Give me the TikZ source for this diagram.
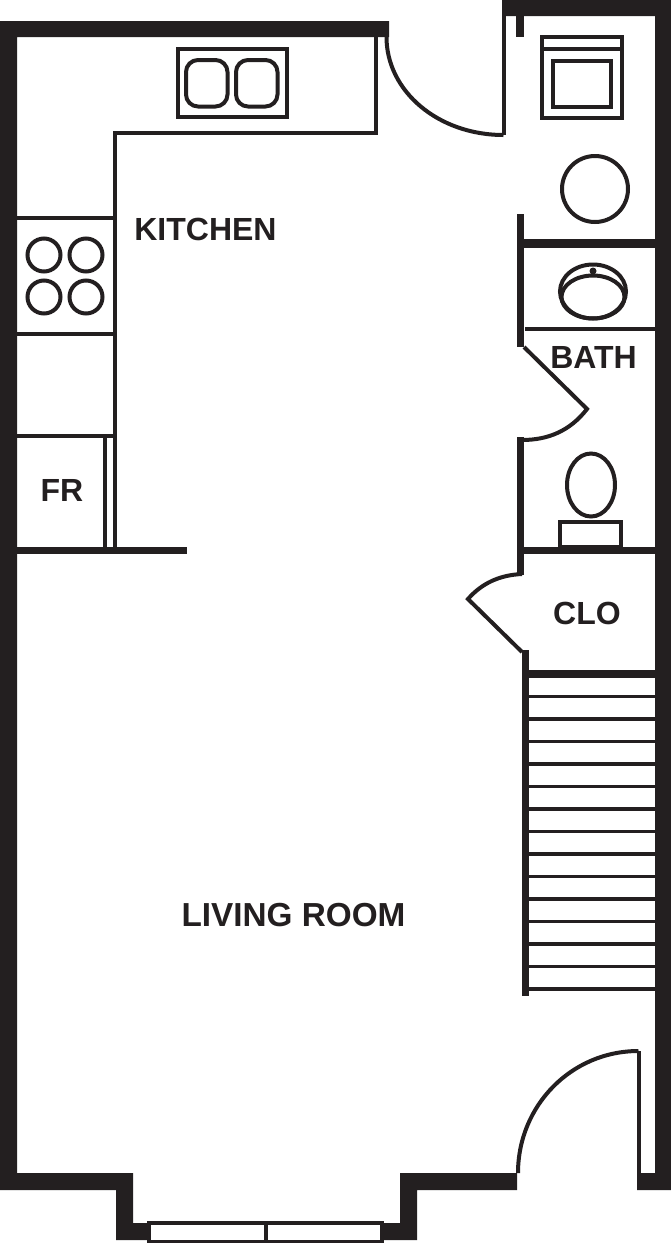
\documentclass[tikz,border=0pt]{standalone}
\usepackage{fontspec}
\setmainfont{Liberation Sans}
\usetikzlibrary{shapes.geometric}
\definecolor{planblack}{HTML}{231F20}
\pgfdeclarelayer{edgelayer}
\pgfdeclarelayer{nodelayer}
\pgfsetlayers{edgelayer,nodelayer,main}
\tikzstyle{room}=[inner sep=0pt,text=planblack,font=\fontsize{32}{36}\selectfont\bfseries]
\tikzstyle{bigroom}=[inner sep=0pt,text=planblack,font=\fontsize{33.3}{36}\selectfont\bfseries]
\tikzstyle{wall}=[fill=planblack,draw=none]
\tikzstyle{partition}=[draw=planblack,line width=7.5pt]
\tikzstyle{fixture}=[draw=planblack,line width=4pt,miter limit=4]
\tikzstyle{tread}=[draw=planblack,line width=3.6pt]

\begin{document}
\begin{tikzpicture}[x=1pt,y=-1pt]
	\useasboundingbox (0, 0) rectangle (671, 1243);
	\begin{pgfonlayer}{edgelayer}
		\fill [style=wall] (0, 21) -- (389, 21) -- (389, 37) -- (17, 37) -- (17, 1173) -- (133, 1173) -- (133, 1223) -- (147, 1223) -- (147, 1240) -- (116, 1240) -- (116, 1190) -- (0, 1190) -- cycle;
		\fill [style=wall] (400, 1173) -- (517, 1173) -- (517, 1190) -- (417, 1190) -- (417, 1240) -- (382, 1240) -- (382, 1223) -- (400, 1223) -- cycle;
		\fill [style=wall] (502, 0) -- (671, 0) -- (671, 1190) -- (637, 1190) -- (637, 1173) -- (655, 1173) -- (655, 16) -- (502, 16) -- cycle;
		\fill [style=wall] (516, 16) rectangle (524, 37);
		\fill [style=wall] (17, 547) rectangle (187, 554);
		\fill [style=wall] (518, 239) rectangle (655, 248);
		\fill [style=wall] (518, 547) rectangle (655, 554);
		\fill [style=wall] (529, 670) rectangle (655, 678);

		\draw [style=partition] (520.5, 214) -- (520.5, 347);
		\draw [style=partition] (520.5, 437) -- (520.5, 575);
		\draw [style=partition] (525.5, 650) -- (525.5, 996);

		\draw [style=fixture] (503.5, 16) -- (503.5, 135);
		\draw [style=fixture] (386.5, 37) .. controls (386.5, 91) and (438, 135) .. (503.5, 135);
		\draw [style=fixture] (638.5, 1173) -- (638.5, 1051);
		\draw [style=fixture] (518, 1173) .. controls (518, 1106) and (571, 1051) .. (638.5, 1051);
		\draw [style=fixture] (524, 347) -- (587, 409) .. controls (570, 431) and (548, 440) .. (522, 440);
		\draw [style=fixture] (522, 652) -- (468, 599) .. controls (482, 583) and (500, 575) .. (522, 574);

		\draw [style=fixture] (115, 550) -- (115, 133) -- (376, 133) -- (376, 37);
		\draw [style=fixture] (17, 218) -- (115, 218);
		\draw [style=fixture] (17, 334) -- (115, 334);
		\draw [style=fixture] (17, 436) -- (115, 436);
		\draw [style=fixture] (104.5, 436) -- (104.5, 548);
		\draw [style=fixture] (525, 329) -- (655, 329);

		\draw [style=fixture] (178, 49) rectangle (287, 117);
		\draw [style=fixture, rounded corners=12pt] (186, 60) rectangle (227.5, 106.5);
		\draw [style=fixture, rounded corners=12pt] (236, 60) rectangle (277.5, 106.5);
		\draw [style=fixture] (44, 255) circle [radius=16.5];
		\draw [style=fixture] (86, 255) circle [radius=16.5];
		\draw [style=fixture] (44, 297) circle [radius=16.5];
		\draw [style=fixture] (86, 297) circle [radius=16.5];

		\draw [style=fixture] (542, 37) rectangle (622, 118);
		\draw [style=fixture] (542, 49) -- (622, 49);
		\draw [style=fixture] (553, 61) rectangle (611, 107);
		\draw [style=fixture] (595, 189) circle [radius=33];

		\draw [style=fixture] (593, 291.5) ellipse [x radius=33, y radius=27];
		\draw [style=fixture] (593, 297) ellipse [x radius=31.5, y radius=21.5];
		\fill [style=wall] (593, 271) circle [radius=3.5];
		\draw [style=fixture] (591, 485) ellipse [x radius=24, y radius=31.5];
		\draw [style=fixture] (560, 522) rectangle (620.5, 547);

		\draw [style=tread] (529, 696.5) -- (655, 696.5);
		\draw [style=tread] (529, 719) -- (655, 719);
		\draw [style=tread] (529, 741.5) -- (655, 741.5);
		\draw [style=tread] (529, 764) -- (655, 764);
		\draw [style=tread] (529, 786.5) -- (655, 786.5);
		\draw [style=tread] (529, 809) -- (655, 809);
		\draw [style=tread] (529, 831.5) -- (655, 831.5);
		\draw [style=tread] (529, 854) -- (655, 854);
		\draw [style=tread] (529, 876.5) -- (655, 876.5);
		\draw [style=tread] (529, 899) -- (655, 899);
		\draw [style=tread] (529, 921.5) -- (655, 921.5);
		\draw [style=tread] (529, 944) -- (655, 944);
		\draw [style=tread] (529, 966.5) -- (655, 966.5);
		\draw [style=tread] (529, 989) -- (655, 989);

		\draw [style=fixture] (148.5, 1222.5) rectangle (381.5, 1241.5);
		\draw [style=fixture] (266, 1222.5) -- (266, 1241.5);
	\end{pgfonlayer}
	\begin{pgfonlayer}{nodelayer}
		\node [style=room] (0) at (205.5, 229) {KITCHEN};
		\node [style=room] (1) at (593.5, 357) {BATH};
		\node [style=room] (2) at (62, 490) {FR};
		\node [style=room] (3) at (587, 613) {CLO};
		\node [style=bigroom] (4) at (293.5, 915) {LIVING ROOM};
	\end{pgfonlayer}
\end{tikzpicture}
\end{document}
